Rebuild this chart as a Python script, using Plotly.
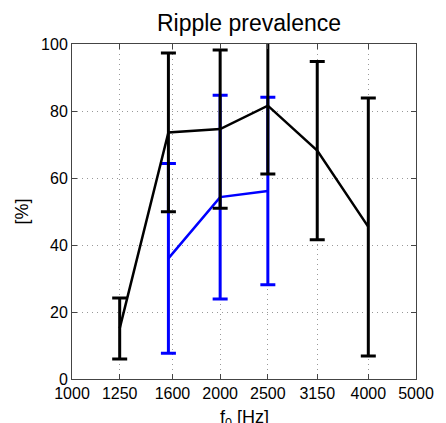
import plotly.graph_objects as go

# Data
freq_ticks = [1000, 1250, 1600, 2000, 2500, 3150, 4000, 5000]
tick_labels = ["1000", "1250", "1600", "2000", "2500", "3150", "4000", "5000"]

black_x = [1250, 1570, 2000, 2500, 3150, 4000]
black_mean = [15.1, 73.6, 74.6, 81.6, 68.2, 45.4]
black_err = [9.1, 23.7, 23.6, 20.4, 26.6, 38.5]

blue_x = [1570, 2000, 2500]
blue_mean = [36.0, 54.3, 56.1]
blue_err = [28.3, 30.4, 28.0]

FONT = "Liberation Sans, Arial, sans-serif"

fig = go.Figure()
fig.add_trace(go.Scatter(
    x=blue_x, y=blue_mean, mode="lines",
    line=dict(color="#0000ff", width=2.5),
    error_y=dict(type="data", array=blue_err, visible=True,
                 color="#0000ff", thickness=3, width=7.5),
    showlegend=False,
))
fig.add_trace(go.Scatter(
    x=black_x, y=black_mean, mode="lines",
    line=dict(color="#000000", width=2.5),
    error_y=dict(type="data", array=black_err, visible=True,
                 color="#000000", thickness=3, width=7.5),
    showlegend=False,
))

axis_common = dict(
    showline=True, linecolor="#444444", linewidth=1, mirror="ticks",
    ticks="inside", ticklen=5, tickcolor="#444444", tickwidth=1,
    showgrid=True, gridcolor="rgba(0,0,0,0.4)", griddash="1px,4px", gridwidth=1,
    zeroline=False,
    tickfont=dict(family=FONT, size=16, color="#000000"),
)

fig.update_xaxes(
    type="log", range=[3, 3.69897],
    tickvals=freq_ticks, ticktext=tick_labels,
    **axis_common,
)
fig.update_yaxes(
    range=[0, 100], tickvals=[0, 20, 40, 60, 80, 100],
    title=dict(text="[%]", font=dict(family=FONT, size=18, color="#000000"), standoff=7),
    **axis_common,
)

fig.add_annotation(
    text="f<sub>0</sub> [Hz]", xref="paper", yref="paper",
    x=0.5, y=-26 / 335, xanchor="center", yanchor="top",
    showarrow=False, font=dict(family=FONT, size=18, color="#000000"),
)

fig.update_layout(
    width=446, height=423,
    margin=dict(l=72, r=19, t=44, b=44),
    paper_bgcolor="white", plot_bgcolor="white",
    hovermode=False,
    title=dict(text="Ripple prevalence", x=249 / 446, xanchor="center",
               y=1 - 23 / 423, yanchor="middle", yref="container",
               font=dict(family=FONT, size=23, color="#000000")),
)

fig.write_html(
    "out.html",
    config={"displayModeBar": False},
    post_script="document.body.style.margin='0';document.body.style.overflow='hidden';",
)
